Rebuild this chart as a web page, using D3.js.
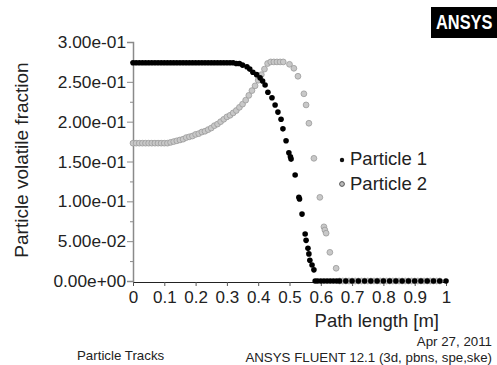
<!DOCTYPE html>
<html>
<head>
<meta charset="utf-8">
<script src="https://cdn.jsdelivr.net/npm/d3@7"></script>
<style>
  html, body { margin: 0; padding: 0; background: #fff; }
  svg { display: block; font-family: "Liberation Sans", Arial, sans-serif; }
</style>
</head>
<body>
<svg id="chart" width="497" height="365"></svg>
<script>
// x ticks and labels
const xTicks = [0, 0.1, 0.2, 0.3, 0.4, 0.5, 0.6, 0.7, 0.8, 0.9, 1];
const xTickLabels = ["0", "0.1", "0.2", "0.3", "0.4", "0.5", "0.6", "0.7", "0.8", "0.9", "1"];
// y ticks and labels
const yTicks = [0, 0.05, 0.1, 0.15, 0.2, 0.25, 0.3];
const yTickLabels = ["0.00e+00", "5.00e-02", "1.00e-01", "1.50e-01", "2.00e-01", "2.50e-01", "3.00e-01"];
const yMinorTicks = [0.025, 0.075, 0.125, 0.175, 0.225, 0.275];

const seriesNames = ["Particle 1", "Particle 2"];

// Particle 1 path length [m]
const p1Length = [
  0.00, 0.01, 0.02, 0.03, 0.04, 0.05, 0.06, 0.07, 0.08, 0.09,
  0.10, 0.11, 0.12, 0.13, 0.14, 0.15, 0.16, 0.17, 0.18, 0.19,
  0.20, 0.21, 0.22, 0.23, 0.24, 0.25, 0.26, 0.27, 0.28, 0.29,
  0.30, 0.31, 0.32, 0.33, 0.34, 0.35, 0.364, 0.373, 0.383, 0.395,
  0.406, 0.414, 0.422, 0.431, 0.444, 0.454, 0.463, 0.473, 0.479, 0.489,
  0.498, 0.503, 0.505, 0.518, 0.530, 0.532, 0.540, 0.550, 0.553, 0.559,
  0.562, 0.565, 0.572, 0.578, 0.582, 0.59, 0.60, 0.61, 0.62, 0.63,
  0.64, 0.65, 0.66, 0.68, 0.70, 0.72, 0.74, 0.76, 0.78, 0.80,
  0.82, 0.84, 0.86, 0.88, 0.90, 0.92, 0.94, 0.96, 0.98, 1.00
];
// Particle 1 volatile fraction
const p1Fraction = [
  0.274, 0.274, 0.274, 0.274, 0.274, 0.274, 0.274, 0.274, 0.274, 0.274,
  0.274, 0.274, 0.274, 0.274, 0.274, 0.274, 0.274, 0.274, 0.274, 0.274,
  0.274, 0.274, 0.274, 0.274, 0.274, 0.274, 0.274, 0.274, 0.274, 0.274,
  0.274, 0.274, 0.274, 0.273, 0.273, 0.271, 0.269, 0.266, 0.262, 0.259,
  0.255, 0.251, 0.246, 0.237, 0.230, 0.221, 0.212, 0.203, 0.191, 0.176,
  0.161, 0.156, 0.153, 0.133, 0.105, 0.103, 0.084, 0.059, 0.051, 0.041,
  0.034, 0.026, 0.020, 0.014, 0.000, 0.000, 0.000, 0.000, 0.000, 0.000,
  0.000, 0.000, 0.000, 0.000, 0.000, 0.000, 0.000, 0.000, 0.000, 0.000,
  0.000, 0.000, 0.000, 0.000, 0.000, 0.000, 0.000, 0.000, 0.000, 0.000
];

// Particle 2 path length [m]
const p2Length = [
  0.00, 0.01, 0.02, 0.03, 0.04, 0.05, 0.06, 0.07, 0.08, 0.09,
  0.10, 0.11, 0.12, 0.13, 0.14, 0.15, 0.16, 0.17, 0.18, 0.19,
  0.20, 0.21, 0.22, 0.23, 0.24, 0.25, 0.26, 0.27, 0.28, 0.29,
  0.30, 0.31, 0.32, 0.33, 0.34, 0.35, 0.36, 0.37, 0.38, 0.39,
  0.40, 0.41, 0.42, 0.43, 0.44, 0.45, 0.46, 0.47, 0.48, 0.50,
  0.514, 0.527, 0.546, 0.553, 0.562, 0.578, 0.597, 0.610, 0.613, 0.617,
  0.629, 0.649, 0.66, 0.67, 0.68, 0.69, 0.70, 0.71, 0.72, 0.73,
  0.74, 0.75, 0.76, 0.77, 0.78, 0.79, 0.80, 0.81, 0.82, 0.83,
  0.84, 0.85, 0.86, 0.87, 0.88, 0.89, 0.90, 0.91, 0.92, 0.93,
  0.94, 0.95, 0.96, 0.97, 0.98
];
// Particle 2 volatile fraction
const p2Fraction = [
  0.173, 0.173, 0.173, 0.173, 0.173, 0.173, 0.173, 0.173, 0.173, 0.173,
  0.173, 0.173, 0.174, 0.175, 0.176, 0.177, 0.178, 0.180, 0.181, 0.182,
  0.184, 0.185, 0.187, 0.188, 0.190, 0.192, 0.195, 0.197, 0.200, 0.203,
  0.206, 0.208, 0.211, 0.214, 0.218, 0.222, 0.227, 0.233, 0.239, 0.245,
  0.252, 0.259, 0.266, 0.273, 0.275, 0.275, 0.275, 0.275, 0.275, 0.272,
  0.267, 0.257, 0.235, 0.221, 0.198, 0.154, 0.105, 0.068, 0.064, 0.060,
  0.036, 0.016, 0.000, 0.000, 0.000, 0.000, 0.000, 0.000, 0.000, 0.000,
  0.000, 0.000, 0.000, 0.000, 0.000, 0.000, 0.000, 0.000, 0.000, 0.000,
  0.000, 0.000, 0.000, 0.000, 0.000, 0.000, 0.000, 0.000, 0.000, 0.000,
  0.000, 0.000, 0.000, 0.000, 0.000
];

const svg = d3.select("#chart");

const x = d3.scaleLinear().domain([0, 1]).range([133, 446]);
const y = d3.scaleLinear().domain([0, 0.3]).range([281, 42]);

// Y axis (gray line, major + minor ticks)
const yAxis = svg.append("g")
  .attr("transform", "translate(133,0)")
  .call(d3.axisLeft(y).tickValues(yTicks).tickSize(6).tickPadding(1)
    .tickFormat((d, i) => yTickLabels[i]));
yAxis.select(".domain").attr("stroke", "#8a8a8a").attr("stroke-width", 1.5);
yAxis.selectAll(".tick line").attr("stroke", "#8a8a8a");
yAxis.selectAll(".tick text")
  .attr("fill", "#222").attr("font-size", 17.3)
  .attr("font-family", "'Liberation Sans', Arial, sans-serif");

const yMinor = svg.append("g")
  .attr("transform", "translate(133,0)")
  .call(d3.axisLeft(y).tickValues(yMinorTicks).tickSize(3).tickFormat(""));
yMinor.select(".domain").remove();
yMinor.selectAll(".tick line").attr("stroke", "#8a8a8a");

// X axis (dark line)
const xAxis = svg.append("g")
  .attr("transform", "translate(0,282)")
  .call(d3.axisBottom(x).tickValues(xTicks).tickSize(4).tickSizeOuter(0).tickPadding(5)
    .tickFormat((d, i) => xTickLabels[i]));
xAxis.select(".domain").attr("stroke", "#222").attr("stroke-width", 1.2);
xAxis.selectAll(".tick line").attr("stroke", "#555");
xAxis.selectAll(".tick text")
  .attr("fill", "#222").attr("font-size", 17)
  .attr("font-family", "'Liberation Sans', Arial, sans-serif");

// Axis titles
svg.append("text")
  .attr("transform", "translate(28,160) rotate(-90)")
  .attr("text-anchor", "middle")
  .attr("font-size", 19)
  .attr("fill", "#222")
  .text("Particle volatile fraction");

svg.append("text")
  .attr("x", 439).attr("y", 327)
  .attr("text-anchor", "end")
  .attr("font-size", 18.5)
  .attr("fill", "#222")
  .text("Path length [m]");

// Particle 2 (gray circles)
const p2 = p2Length.map((d, i) => ({ l: d, f: p2Fraction[i] }));
svg.append("g").selectAll("circle")
  .data(p2)
  .enter()
  .append("circle")
  .attr("cx", d => x(d.l))
  .attr("cy", d => y(d.f))
  .attr("r", 2.9)
  .attr("fill", "#c8c8c8")
  .attr("stroke", "#9a9a9a")
  .attr("stroke-width", 0.8);

// Particle 1 (black dots)
const p1 = p1Length.map((d, i) => ({ l: d, f: p1Fraction[i] }));
svg.append("g").selectAll("circle")
  .data(p1)
  .enter()
  .append("circle")
  .attr("cx", d => x(d.l))
  .attr("cy", d => y(d.f))
  .attr("r", 2.8)
  .attr("fill", "#000");

// Legend
const legend = svg.append("g");
legend.append("circle").attr("cx", 342).attr("cy", 160).attr("r", 2.2).attr("fill", "#111");
legend.append("text").attr("x", 350).attr("y", 165)
  .attr("font-size", 18.5).attr("fill", "#222").text(seriesNames[0]);
legend.append("circle").attr("cx", 342).attr("cy", 184).attr("r", 2.4)
  .attr("fill", "#bbb").attr("stroke", "#555").attr("stroke-width", 1);
legend.append("text").attr("x", 350).attr("y", 190)
  .attr("font-size", 18.5).attr("fill", "#222").text(seriesNames[1]);

// Footer texts
svg.append("text")
  .attr("x", 492).attr("y", 346)
  .attr("text-anchor", "end")
  .attr("font-size", 13.3).attr("fill", "#222")
  .text("Apr 27, 2011");
svg.append("text")
  .attr("x", 492).attr("y", 362)
  .attr("text-anchor", "end")
  .attr("font-size", 13.3).attr("fill", "#222")
  .text("ANSYS FLUENT 12.1 (3d, pbns, spe,ske)");
svg.append("text")
  .attr("x", 77).attr("y", 360)
  .attr("font-size", 13.3).attr("fill", "#222")
  .text("Particle Tracks");

// ANSYS logo
svg.append("rect")
  .attr("x", 431).attr("y", 7).attr("width", 66).attr("height", 31)
  .attr("fill", "#000");
svg.append("text")
  .attr("transform", "translate(436,29) scale(0.78,1)")
  .attr("font-family", "'Liberation Sans', Arial, sans-serif")
  .attr("font-weight", "bold")
  .attr("font-size", 21)
  .attr("fill", "#fff")
  .text("ANSYS");
</script>
</body>
</html>
